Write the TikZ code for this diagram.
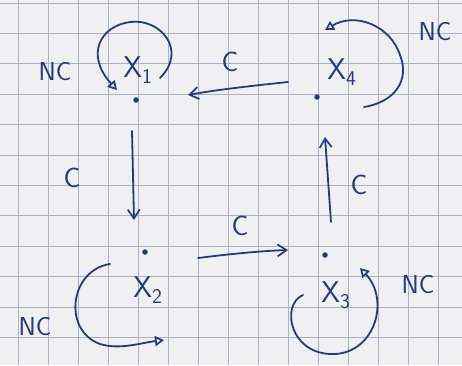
\documentclass[tikz,border=0pt]{standalone}
\usetikzlibrary{arrows.meta}
\definecolor{ink}{RGB}{38,58,125}
\definecolor{gridc}{RGB}{172,178,198}
\definecolor{paper}{RGB}{240,240,243}
\tikzset{
  hand/.style={draw=ink, line width=1.8pt, line cap=round, line join=round},
  stick/.style={hand, -{Straight Barb[length=9pt,width=12pt,line width=1.7pt]}},
  tri/.style={hand, -{Triangle[open,length=9pt,width=10pt,line width=1.7pt]}},
  dotnode/.style={circle, fill=ink, inner sep=0pt, minimum size=5.5pt},
  xlab/.style={text=ink, font=\sffamily\fontsize{30}{30}\selectfont, inner sep=0pt},
  clab/.style={text=ink, font=\sffamily\fontsize{28}{28}\selectfont, inner sep=0pt},
  nclab/.style={text=ink, font=\sffamily\fontsize{26}{26}\selectfont, inner sep=0pt},
}
\begin{document}
\begin{tikzpicture}[x=1pt,y=-1pt]
\useasboundingbox (0,0) rectangle (462,365);
\fill[paper] (0,0) rectangle (462,365);
% graph paper
\foreach \i in {0,...,14} {\draw[gridc, line width=0.8pt] (18+30*\i,0) -- (18+30*\i,365);}
\foreach \j in {0,...,12} {\draw[gridc, line width=0.9pt] (0,3+30.4*\j) -- (462,3+30.4*\j);}
% states
\node[dotnode] (d1) at (136,100) {};
\node[dotnode] (d4) at (317,97) {};
\node[dotnode] (d2) at (145,252) {};
\node[dotnode] (d3) at (325,255) {};
\node[xlab] (l1) at (138,70) {X\textsubscript{1}};
\node[xlab] (l4) at (342,72) {X\textsubscript{4}};
\node[xlab] (l2) at (148,290) {X\textsubscript{2}};
\node[xlab] (l3) at (336,295) {X\textsubscript{3}};
% connector end points
\coordinate (a41s) at (288,82);
\coordinate (a41e) at (188,95);
\coordinate (a12s) at (132,131);
\coordinate (a12e) at (134,220);
\coordinate (a23s) at (198,258);
\coordinate (a23e) at (288,250);
\coordinate (a34s) at (331,222);
\coordinate (a34e) at (325,137);
% transitions
\draw[stick] (a41s) .. controls (250,86) and (215,90) .. (a41e);
\draw[stick] (a12s) -- (a12e);
\draw[stick] (a23s) .. controls (230,254) and (260,251) .. (a23e);
\draw[stick] (a34s) -- (a34e);
\node[clab] (c41) at (230,62) {C};
\node[clab] (c12) at (72,178) {C};
\node[clab] (c23) at (240,226) {C};
\node[clab] (c34) at (359,185) {C};
% self loops
\coordinate (s1) at (160,78);
\coordinate (e1) at (117,90);
\draw[tri] (s1) .. controls (188,50) and (160,18) .. (130,22)
               .. controls (100,26) and (85,55) .. (e1);
\coordinate (s4) at (364,107);
\coordinate (e4) at (325,30);
\draw[tri] (s4) .. controls (395,102) and (410,80) .. (400,55)
               .. controls (390,25) and (355,12) .. (e4);
\coordinate (s2) at (110,264);
\coordinate (e2) at (164,340);
\draw[tri] (s2) .. controls (70,270) and (62,330) .. (100,344)
               .. controls (120,350) and (140,343) .. (e2);
\coordinate (s3) at (303,295);
\coordinate (e3) at (360,268);
\draw[tri] (s3) .. controls (280,305) and (290,356) .. (335,354)
               .. controls (375,352) and (390,300) .. (e3);
\node[nclab] (n1) at (55,72) {NC};
\node[nclab] (n4) at (435,32) {NC};
\node[nclab] (n2) at (35,327) {NC};
\node[nclab] (n3) at (418,285) {NC};
\end{tikzpicture}
\end{document}
